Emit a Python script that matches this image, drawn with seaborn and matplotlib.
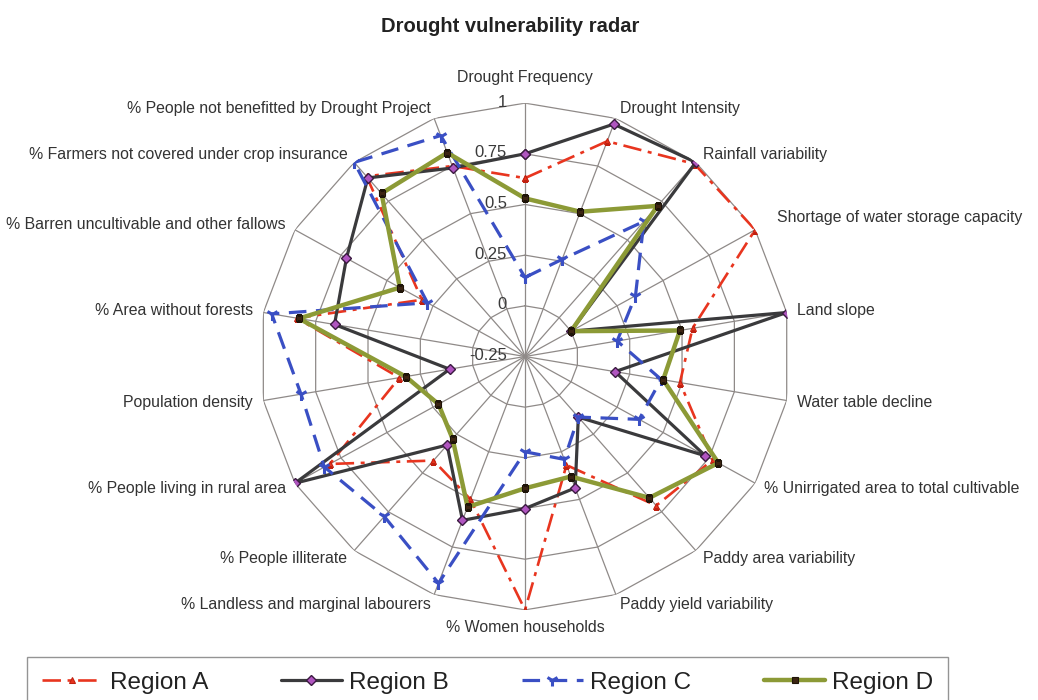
import numpy as np
import matplotlib
matplotlib.use("Agg")
import matplotlib.pyplot as plt
import matplotlib.transforms as mtransforms
import seaborn as sns

# Indicator names, clockwise from the top
categories = [
    "Drought Frequency",
    "Drought Intensity",
    "Rainfall variability",
    "Shortage of water storage capacity",
    "Land slope",
    "Water table decline",
    "% Unirrigated area to total cultivable",
    "Paddy area variability",
    "Paddy yield variability",
    "% Women households",
    "% Landless and marginal labourers",
    "% People illiterate",
    "% People living in rural area",
    "Population density",
    "% Area without forests",
    "% Barren uncultivable and other fallows",
    "% Farmers not covered under crop insurance",
    "% People not benefitted by Drought Project",
]

# Normalised indicator scores per region
region_a = [0.63, 0.88, 0.99, 1.00, 0.55, 0.49, 0.77, 0.71, 0.32, 1.00,
            0.50, 0.42, 0.81, 0.35, 0.84, 0.31, 0.91, 0.75]
region_b = [0.75, 0.97, 1.00, 0.00, 1.00, 0.18, 0.73, 0.14, 0.44, 0.50,
            0.61, 0.32, 1.00, 0.11, 0.66, 0.72, 0.90, 0.74]
region_c = [0.14, 0.26, 0.62, 0.35, 0.19, 0.40, 0.37, 0.14, 0.29, 0.22,
            0.94, 0.78, 0.84, 0.82, 0.96, 0.28, 1.00, 0.91]
region_d = [0.53, 0.51, 0.72, 0.00, 0.49, 0.41, 0.80, 0.66, 0.38, 0.40,
            0.54, 0.28, 0.22, 0.32, 0.83, 0.43, 0.80, 0.82]

series_names = ["Region A", "Region B", "Region C", "Region D"]

# Radial axis
r_min, r_max = -0.25, 1.0
ring_values = [0.0, 0.25, 0.5, 0.75, 1.0]
tick_values = [-0.25, 0.0, 0.25, 0.5, 0.75, 1.0]
tick_labels = ["-0.25", "0", "0.25", "0.5", "0.75", "1"]

sns.set_theme(style="white")
plt.rcParams["font.family"] = ["Liberation Sans", "DejaVu Sans"]

fig = plt.figure(figsize=(10.38, 7.0), dpi=100)
ax = fig.add_axes([0.2498, 0.1287, 0.512, 0.724], projection="polar")
ax.set_aspect("auto")
ax.set_theta_offset(np.pi / 2)
ax.set_theta_direction(-1)
ax.set_ylim(r_min, r_max)
ax.grid(False)
ax.set_xticks([])
ax.set_yticks([])
ax.spines["polar"].set_visible(False)
ax.patch.set_alpha(0)

n = len(categories)
theta = np.arange(n) * 2 * np.pi / n
theta_closed = np.append(theta, 2 * np.pi)

grid_color = "#8f8a88"
# Polygonal rings and spokes
for rv in ring_values:
    ax.plot(theta_closed, [rv] * (n + 1), color=grid_color, lw=0.9, zorder=1)
for t in theta:
    ax.plot([t, t], [r_min, r_max], color=grid_color, lw=0.9, zorder=1)

styles = {
    "Region A": dict(color="#e8351f", lw=1.9, linestyle=(0, (7, 2.5, 1.5, 2.5)),
                     marker="^", markersize=5, markerfacecolor="#e8351f",
                     markeredgecolor="#c02010"),
    "Region B": dict(color="#3a3a3c", lw=2.3, linestyle="-",
                     marker="D", markersize=5.5, markerfacecolor="#b055c0",
                     markeredgecolor="#3a1a40", markeredgewidth=1.0),
    "Region C": dict(color="#3a4fc4", lw=2.3, linestyle=(0, (5.5, 3)),
                     marker="1", markersize=9, markeredgewidth=2.2,
                     markeredgecolor="#3a4fc4"),
    "Region D": dict(color="#8c9a36", lw=3.2, linestyle="-",
                     marker="s", markersize=4.5, markerfacecolor="#3c2412",
                     markeredgecolor="#1e1408", markeredgewidth=0.8),
}

values = [region_a, region_b, region_c, region_d]
for z, (name, vals) in enumerate(zip(series_names, values)):
    closed = list(vals) + [vals[0]]
    sns.lineplot(x=theta_closed, y=closed, ax=ax, sort=False, estimator=None,
                 label=name, zorder=3 + z, **styles[name])

if ax.get_legend() is not None:
    ax.get_legend().remove()
ax.set_xlabel("")
ax.set_ylabel("")

# Radial tick labels along the top spoke
tick_tf = mtransforms.offset_copy(ax.transData, fig=fig, x=-18, y=1, units="dots")
for v, lab in zip(tick_values, tick_labels):
    ax.text(0, v, lab, transform=tick_tf, ha="right", va="center",
            fontsize=12, color="#3a3a3a", zorder=10)

# Category labels around the rim
label_r = {0: 1.09, 3: 1.12}
for k, (t, name) in enumerate(zip(theta, categories)):
    s, c = np.sin(t), np.cos(t)
    if abs(s) < 0.05:
        ha = "center"
        va = "bottom" if c > 0 else "top"
    else:
        ha = "left" if s > 0 else "right"
        va = "center"
    ax.text(t, label_r.get(k, 1.05), name, ha=ha, va=va, fontsize=11.4,
            color="#333333", clip_on=False)

fig.text(510 / 1038, 1 - 27 / 700, "Drought vulnerability radar",
         ha="center", va="center", fontsize=14.5, fontweight="bold",
         color="#222222")

handles, labels = ax.get_legend_handles_labels()
leg = fig.legend(handles, labels, loc="upper left",
                 bbox_to_anchor=(27 / 1038, 1 - 657 / 700, 921 / 1038, 0.0),
                 mode="expand", ncol=4, fontsize=17.5, frameon=True,
                 fancybox=False, borderpad=0.6, handlelength=2.5,
                 handletextpad=0.3, borderaxespad=0.0, columnspacing=1.0)
leg.get_frame().set_edgecolor("#7a7a7a")
leg.get_frame().set_linewidth(1.0)
for txt in leg.get_texts():
    txt.set_color("#222222")

fig.savefig("out.png", dpi=100, facecolor="white")
